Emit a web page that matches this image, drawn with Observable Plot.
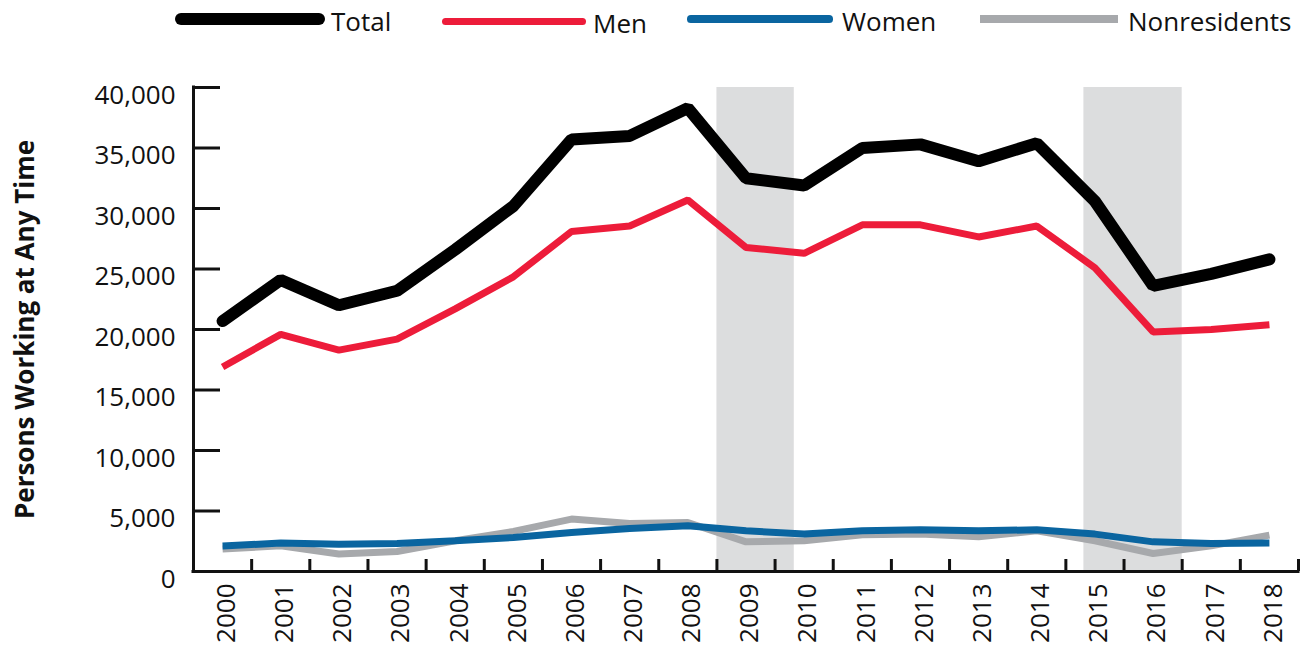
<!DOCTYPE html>
<html><head><meta charset="utf-8">
<script src="https://cdn.jsdelivr.net/npm/d3@7"></script>
<script src="https://cdn.jsdelivr.net/npm/@observablehq/plot@0.6"></script>
<style>
body{margin:0;background:#fff;font-family:"Open Sans",sans-serif;}
#legend{position:relative;height:48px;width:1310px;}
.sw{position:absolute;}
.lt{position:absolute;font-size:26px;line-height:26px;color:#111;white-space:nowrap;}
</style></head><body>
<div id="legend"></div>
<div id="chart"></div>
<script>
const years = [2000,2001,2002,2003,2004,2005,2006,2007,2008,2009,2010,2011,2012,2013,2014,2015,2016,2017,2018];
const total = [20700,24100,22000,23200,26600,30200,35700,36000,38300,32500,31900,35000,35300,33900,35400,30600,23600,24600,25800];
const men = [16900,19600,18300,19200,21700,24350,28100,28550,30700,26780,26300,28650,28650,27650,28550,25100,19800,20000,20400];
const women = [2100,2350,2260,2310,2540,2810,3220,3550,3780,3360,3090,3360,3450,3360,3450,3090,2450,2310,2350];
const nonresidents = [1850,2120,1440,1650,2540,3310,4330,3970,4050,2450,2540,3030,3090,2870,3360,2540,1490,2120,3010];
const seriesNames = ["Total","Men","Women","Nonresidents"];
const seriesColors = ["#000000","#ed1c3a","#0a65a0","#a7a9ac"];
const yTicks = [0,5000,10000,15000,20000,25000,30000,35000,40000];
const shadeStart = [2008.5, 2014.81];
const shadeEnd = [2009.83, 2016.5];
const yTitle = "Persons Working at Any Time";

// legend (HTML, above the SVG)
const legendLayout = [
  {x1:175,x2:325,cy:19,th:12.3,round:true,tx:331,ty:7.6},
  {x1:442,x2:586,cy:21,th:7,round:true,tx:593,ty:10.2},
  {x1:687,x2:833,cy:19,th:7.7,round:true,tx:842,ty:7.6},
  {x1:980,x2:1118,cy:19,th:7.7,round:false,tx:1128,ty:7.6}
];
const leg = document.getElementById("legend");
seriesNames.forEach((n,i)=>{
  const L = legendLayout[i];
  const s = document.createElement("div");
  s.className="sw";
  s.style.left=L.x1+"px"; s.style.width=(L.x2-L.x1)+"px";
  s.style.top=(L.cy-L.th/2)+"px"; s.style.height=L.th+"px";
  s.style.background=seriesColors[i];
  if (L.round) s.style.borderRadius=(L.th/2)+"px";
  leg.appendChild(s);
  const t = document.createElement("div");
  t.className="lt"; t.textContent=n;
  t.style.left=L.tx+"px"; t.style.top=L.ty+"px";
  leg.appendChild(t);
});

const valuesBySeries = [total, men, women, nonresidents];
const data = seriesNames.flatMap((s,i)=>years.map((y,j)=>({series:s, year:y, value:valuesBySeries[i][j]})));
const shades = shadeStart.map((s,i)=>({start:s, end:shadeEnd[i]}));
const xBounds = years.map(y=>y+0.5);

const W = 1310, H = 599, mT = 39, mB = 76, mL = 193, mR = 12;
const frameW = W - mL - mR, frameH = H - mT - mB;

const lineOpts = {
  Total: {strokeWidth: 12, strokeLinecap: "round", strokeLinejoin: "miter"},
  Men: {strokeWidth: 7, strokeLinecap: "butt", strokeLinejoin: "miter"},
  Women: {strokeWidth: 7, strokeLinecap: "butt", strokeLinejoin: "miter"},
  Nonresidents: {strokeWidth: 7, strokeLinecap: "butt", strokeLinejoin: "miter"}
};
const drawOrder = ["Nonresidents","Women","Men","Total"];

const chart = Plot.plot({
  width: W, height: H,
  marginTop: mT, marginBottom: mB, marginLeft: mL, marginRight: mR,
  style: {fontFamily: "'Open Sans', sans-serif", fontSize: "26px", color: "#111", background: "#fff"},
  x: {domain: [years[0]-0.5, years[years.length-1]+0.5]},
  y: {domain: [yTicks[0], yTicks[yTicks.length-1]]},
  marks: [
    Plot.rect(shades, {x1: "start", x2: "end", fill: "#dcddde"}),
    ...drawOrder.map(n => Plot.line(data.filter(d=>d.series===n), {
      x: "year", y: "value", stroke: seriesColors[seriesNames.indexOf(n)], ...lineOpts[n]
    })),
    Plot.axisY(yTicks, {tickSize: 0, tickPadding: 18, tickFormat: d3.format(","), dy: 8, fontSize: 26, label: null}),
    Plot.tickY(yTicks, {y: d=>d, insetRight: frameW - 27, stroke: "#111", strokeWidth: 3}),
    Plot.axisX(years, {tickSize: 0, tickRotate: -90, tickPadding: 12, tickFormat: d=>String(d), fontSize: 26, label: null, dx: 4}),
    Plot.tickX(xBounds, {x: d=>d, insetTop: frameH - 12, stroke: "#111", strokeWidth: 3}),
    Plot.ruleY([yTicks[0]], {stroke: "#111", strokeWidth: 3, strokeLinecap: "square"}),
    Plot.ruleX([years[0]-0.5], {stroke: "#111", strokeWidth: 3, strokeLinecap: "square"}),
    Plot.text([yTitle], {frameAnchor: "left", textAnchor: "middle", dx: -168, rotate: -90, fontWeight: "bold", fontSize: 26, fill: "#111"})
  ]
});
document.getElementById("chart").appendChild(chart);
</script>
</body></html>
